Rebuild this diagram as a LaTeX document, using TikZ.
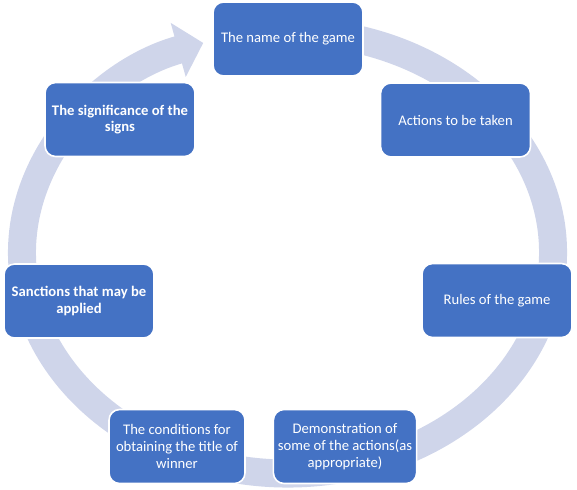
\documentclass[tikz,border=0pt]{standalone}
\usepackage{fontspec}
\setmainfont{Carlito}
\usepackage{tikz}
\usepackage{xcolor}
\usetikzlibrary{arrows.meta}
\definecolor{boxblue}{HTML}{4472C4}
\definecolor{ringblue}{HTML}{CFD5EA}
\tikzset{
    block/.style = {draw=white, line width=1.2pt, fill=boxblue,
        rounded corners=8pt, text=white, align=center,
        minimum height=55.5pt,
        minimum width=112.5pt,
        font=\fontsize{11}{12.5}\selectfont},
    narrow/.style = {minimum width=102pt},
    cycle/.style = {draw=ringblue, line width=21pt,
        -{Triangle[width=41pt, length=19.5pt]}}
}
\begin{document}
\begin{tikzpicture}[x=0.75pt, y=-0.75pt]
            \useasboundingbox (0,0) rectangle (577,489);
            \coordinate (centre) at (287.5,252.5);
            \draw [cycle] (centre) ++(280:265.5 and 221)
                arc [start angle=280, end angle=611.5, x radius=265.5, y radius=221];

            \node [block] (name) at (288,39) {The name of the game};
            \node [block] (actions) at (455.5,120) {Actions to be taken};
            \node [block] (rules) at (497,300.5) {Rules of the game};
            \node [block, narrow] (demo) at (345,446.5) {Demonstration of\\ some of the actions(as\\ appropriate)};
            \node [block, narrow] (winner) at (177,446.5) {The conditions for\\ obtaining the title of\\ winner};
            \node [block, font=\fontsize{11}{12.5}\selectfont\bfseries] (sanctions) at (79,301) {Sanctions that may be\\ applied};
            \node [block, font=\fontsize{11}{12.5}\selectfont\bfseries] (signs) at (120,119.5) {The significance of the\\ signs};
\end{tikzpicture}
\end{document}
